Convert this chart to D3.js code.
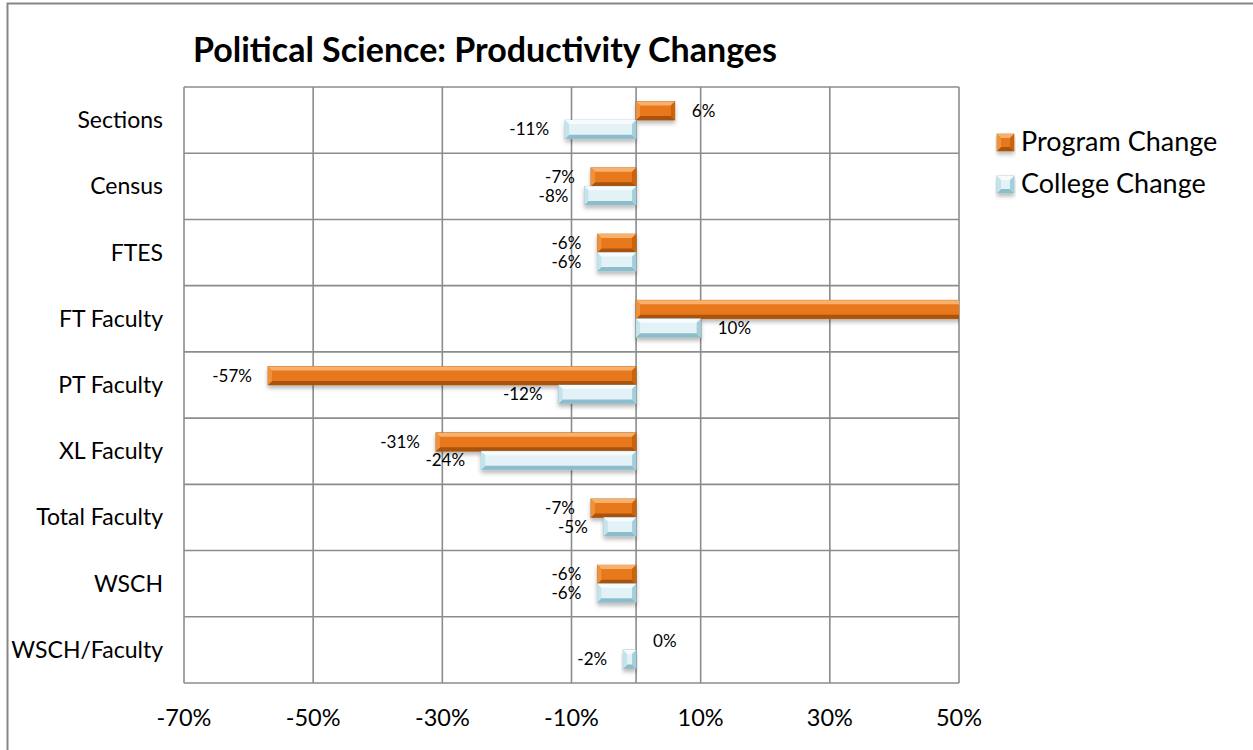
<!DOCTYPE html>
<html>
<head>
<meta charset="utf-8">
<script src="https://cdn.jsdelivr.net/npm/d3@7"></script>
<style>
  html, body { margin: 0; padding: 0; background: #fff; }
  svg { display: block; }
  text { font-family: Lato, "Open Sans", "Liberation Sans", sans-serif; fill: #000; }
</style>
</head>
<body>
<svg id="chart" width="1253" height="750"></svg>
<script>
// Productivity changes, in percent
const categories = ["Sections", "Census", "FTES", "FT Faculty", "PT Faculty", "XL Faculty", "Total Faculty", "WSCH", "WSCH/Faculty"];
const programChange = [6, -7, -6, 67, -57, -31, -7, -6, 0];
const collegeChange = [-11, -8, -6, 10, -12, -24, -5, -6, -2];
const seriesNames = ["Program Change", "College Change"];
const xTicks = [-70, -50, -30, -10, 10, 30, 50];
const titleText = "Political Science: Productivity Changes";

const svg = d3.select("#chart");
const plot = { left: 184, right: 959, top: 87, bottom: 683 };

// Bevel palettes: top, left, face, right, bottom
const palettes = [
  { top: "#f8b06a", left: "#f0913a", face: "#e8781e", right: "#c9630f", bottom: "#a9520b", stroke: "#a65510" },
  { top: "#f6fcfe", left: "#c4e4ec", face: "#e2f2f7", right: "#a3cfdb", bottom: "#8dbdcb", stroke: "#86b3c1" }
];

const defs = svg.append("defs");
const shadow = defs.append("filter").attr("id", "shadow")
  .attr("x", "-10%").attr("y", "-30%").attr("width", "120%").attr("height", "180%");
shadow.append("feDropShadow").attr("dx", 0).attr("dy", 3).attr("stdDeviation", 2)
  .attr("flood-color", "#000").attr("flood-opacity", 0.28);
defs.append("clipPath").attr("id", "plotClip").append("rect")
  .attr("x", plot.left).attr("y", plot.top)
  .attr("width", plot.right - plot.left).attr("height", plot.bottom - plot.top);

// Outer chart frame
svg.append("rect").attr("x", 7.5).attr("y", 3.5).attr("width", 1300).attr("height", 800)
  .attr("fill", "#fff").attr("stroke", "#868686").attr("stroke-width", 2);

const x = d3.scaleLinear().domain([-70, 50]).range([plot.left, plot.right]);
const y = d3.scaleBand().domain(categories).range([plot.top, plot.bottom])
  .paddingInner(0.44).paddingOuter(0.22);
const ySub = d3.scaleBand().domain(seriesNames).range([0, y.bandwidth()]);

// Grid: vertical at ticks and at zero, horizontal at category boundaries
const grid = svg.append("g").attr("stroke", "#8c8c8c").attr("stroke-width", 1.6);
xTicks.concat([0]).forEach(t => {
  grid.append("line").attr("x1", x(t)).attr("x2", x(t))
    .attr("y1", plot.top).attr("y2", plot.bottom);
});
const step = y.step();
d3.range(categories.length + 1).forEach(i => {
  const yy = y(categories[0]) - y.paddingOuter() * step + i * step;
  grid.append("line").attr("x1", plot.left).attr("x2", plot.right)
    .attr("y1", yy).attr("y2", yy);
});

// Beveled bar
function bevel(g, x0, y0, w, h, pal) {
  const bx = Math.min(4, w / 2), by = Math.min(4, h / 2);
  const x1 = x0 + w, y1 = y0 + h;
  const grp = g.append("g").attr("filter", "url(#shadow)");
  grp.append("rect").attr("x", x0).attr("y", y0).attr("width", w).attr("height", h)
    .attr("fill", pal.face).attr("stroke", pal.stroke).attr("stroke-width", 0.8).attr("stroke-opacity", 0.7);
  const poly = (pts, c) => grp.append("polygon").attr("points", pts.map(p => p.join(",")).join(" ")).attr("fill", c);
  poly([[x0, y0], [x1, y0], [x1 - bx, y0 + by], [x0 + bx, y0 + by]], pal.top);
  poly([[x0, y1], [x1, y1], [x1 - bx, y1 - by], [x0 + bx, y1 - by]], pal.bottom);
  poly([[x0, y0], [x0 + bx, y0 + by], [x0 + bx, y1 - by], [x0, y1]], pal.left);
  poly([[x1, y0], [x1 - bx, y0 + by], [x1 - bx, y1 - by], [x1, y1]], pal.right);
}

// Bars
const barsG = svg.append("g").attr("clip-path", "url(#plotClip)");
const seriesValues = [programChange, collegeChange];
const labelsG = svg.append("g");
seriesValues.forEach((vals, si) => {
  vals.forEach((v, i) => {
    const cat = categories[i];
    const yy = y(cat) + ySub(seriesNames[si]);
    const h = ySub.bandwidth();
    const x0 = Math.min(x(0), x(v)), w = Math.abs(x(v) - x(0));
    bevel(barsG, x0, yy, w, h, palettes[si]);
    const lx = v >= 0 ? x(v) + 17 : x(v) - 16;
    if (lx < plot.right) {
      labelsG.append("text")
        .attr("x", lx).attr("y", yy + h / 2)
        .attr("dy", "0.35em")
        .attr("text-anchor", v >= 0 ? "start" : "end")
        .attr("font-size", 17)
        .text(String(v) + "%");
    }
  });
});

// Category axis labels
svg.append("g").selectAll("text").data(categories).join("text")
  .attr("x", 163).attr("y", d => y(d) + y.bandwidth() / 2)
  .attr("dy", "0.35em").attr("text-anchor", "end")
  .attr("font-size", 23)
  .text(d => d);

// Value axis labels
svg.append("g").selectAll("text").data(xTicks).join("text")
  .attr("x", d => x(d)).attr("y", 718).attr("dy", "0.35em")
  .attr("text-anchor", "middle").attr("font-size", 23.5)
  .text(d => String(d) + "%");

// Title
svg.append("text").attr("x", 193).attr("y", 50).attr("dy", "0.35em")
  .attr("font-size", 34).attr("font-weight", "bold")
  .text(titleText);

// Legend
const legend = svg.append("g");
seriesNames.forEach((name, i) => {
  const ly = 142 + i * 42;
  bevel(legend, 997, ly - 8, 17, 17, palettes[i]);
  legend.append("text").attr("x", 1021).attr("y", ly).attr("dy", "0.35em")
    .attr("font-size", 27).text(name);
});
</script>
</body>
</html>
